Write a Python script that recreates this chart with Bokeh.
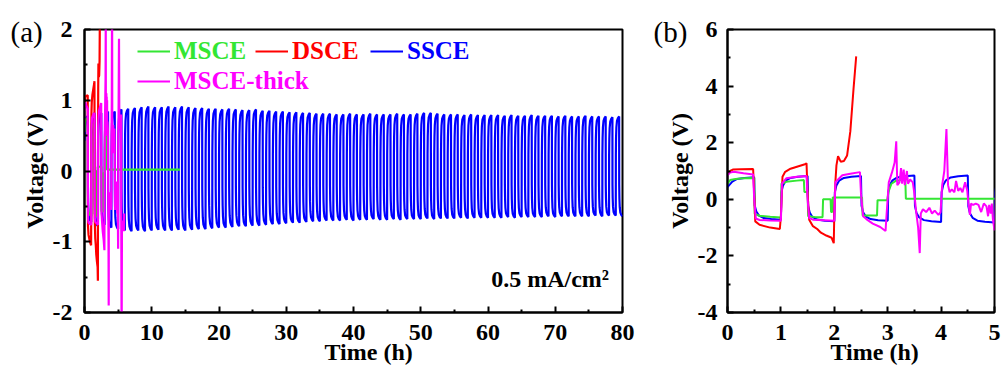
from bokeh.plotting import figure
from bokeh.layouts import row
from bokeh.models import FixedTicker, Legend, LegendItem, Label, Range1d, Title
from bokeh.embed import file_html
from bokeh.resources import INLINE

FONT = "Liberation Serif"
C_MSCE, C_DSCE, C_SSCE, C_THICK = "#33e633", "#ff0000", "#0000ff", "#ff00ff"

# ---------------- data ----------------
# SSCE: one value per 1 h cycle (charge half then discharge half)
ssce_peak = [0.78, 0.82, 0.82, 0.84, 0.84,
             0.87, 0.88, 0.89, 0.90, 0.91, 0.90, 0.90, 0.91, 0.90, 0.91, 0.90, 0.89,
             0.89, 0.88, 0.88, 0.87, 0.88, 0.87, 0.86, 0.86, 0.87, 0.85, 0.85, 0.84, 0.84,
             0.83, 0.83, 0.82, 0.82, 0.81, 0.81,
             0.81, 0.80, 0.80, 0.81, 0.80, 0.80, 0.81, 0.80, 0.80, 0.80, 0.81, 0.80, 0.80,
             0.81, 0.82, 0.82, 0.81, 0.80, 0.80, 0.80, 0.79, 0.80, 0.79, 0.79,
             0.79, 0.79, 0.78, 0.79, 0.78, 0.78, 0.79, 0.78, 0.78, 0.78, 0.77, 0.78, 0.77,
             0.77, 0.78, 0.77, 0.77, 0.77, 0.76, 0.77]
ssce_trough = [-0.72, -0.78, -0.76, -0.80, -0.82,
               -0.84, -0.85, -0.84, -0.85, -0.84, -0.83, -0.84, -0.84, -0.83, -0.84, -0.83, -0.82,
               -0.82, -0.81, -0.80, -0.80, -0.79, -0.78, -0.78, -0.77, -0.77, -0.76, -0.75, -0.75,
               -0.74, -0.73, -0.73, -0.72, -0.71, -0.71, -0.70,
               -0.70, -0.70, -0.69, -0.70, -0.69, -0.69, -0.68, -0.69, -0.69, -0.68, -0.69, -0.68,
               -0.68, -0.68, -0.67, -0.68, -0.67, -0.67, -0.67, -0.66, -0.67, -0.66, -0.66, -0.66,
               -0.66, -0.66, -0.65, -0.66, -0.65, -0.65, -0.65, -0.65, -0.64, -0.65, -0.64, -0.64,
               -0.64, -0.64, -0.64, -0.63, -0.64, -0.63, -0.63, -0.64]

msce_t = [0.0, 0.05, 0.15, 0.3, 0.5, 0.51, 0.6, 0.8, 1.0, 1.01, 1.1, 1.3, 1.43, 1.44, 1.5,
          1.51, 1.65, 1.78, 1.79, 1.93, 1.94, 1.96, 1.97, 2.52, 2.53, 2.80, 2.81, 2.99,
          3.02, 3.07, 3.15, 3.25, 3.33, 3.34, 14.2]
msce_v = [0.55, 0.68, 0.72, 0.74, 0.75, -0.52, -0.58, -0.62, -0.64, 0.55, 0.62, 0.66, 0.68,
          0.26, 0.26, -0.60, -0.63, -0.63, 0.0, 0.0, -0.45, -0.45, 0.06, 0.06, -0.57, -0.57,
          -0.03, -0.03, 0.3, 0.55, 0.65, 0.68, 0.70, 0.02, 0.02]

dsce_t = [0.0, 0.05, 0.1, 0.25, 0.48, 0.5, 0.52, 0.6, 0.8, 0.98, 1.0, 1.03, 1.08, 1.18, 1.33,
          1.45, 1.48, 1.5, 1.53, 1.6, 1.68, 1.75, 1.85, 1.95, 1.99, 2.0, 2.02, 2.04, 2.07,
          2.12, 2.18, 2.24, 2.3, 2.36, 2.41]
dsce_v = [0.88, 1.0, 1.05, 1.06, 1.07, 0.2, -0.78, -0.9, -1.0, -1.05, -0.6, 0.8, 0.97, 1.08,
          1.17, 1.24, 1.27, 0.2, -0.72, -0.95, -1.05, -1.18, -1.28, -1.36, -1.55, -0.5, 0.6,
          1.2, 1.52, 1.33, 1.35, 1.55, 2.4, 3.9, 5.05]

thick_t = [0.0, 0.05, 0.12, 0.3, 0.48, 0.5, 0.53, 0.6, 0.8, 1.0,
           1.02, 1.1, 1.3, 1.48, 1.5, 1.53, 1.6, 1.8, 2.0,
           2.02, 2.15, 2.3, 2.48, 2.5, 2.54, 2.6, 2.72, 2.86, 2.96,
           2.98, 3.02, 3.08, 3.13, 3.16, 3.18, 3.22, 3.25, 3.27, 3.3, 3.32, 3.36, 3.38, 3.42, 3.47,
           3.5, 3.53, 3.57, 3.6, 3.62, 3.66, 3.72, 3.78, 3.83, 3.88, 3.95, 3.99,
           4.02, 4.06, 4.1, 4.13, 4.16, 4.2, 4.25, 4.28, 4.32, 4.36, 4.4, 4.45, 4.49,
           4.51, 4.54, 4.56, 4.6, 4.65, 4.7, 4.75, 4.8, 4.85, 4.88, 4.9, 4.93, 4.95, 4.97, 5.0,
           5.03, 5.08, 5.13, 5.18, 5.3, 5.45, 5.47, 5.52, 5.57, 5.7, 5.85, 5.9]
thick_v = [0.85, 0.95, 0.97, 0.92, 0.88, 0.0, -0.68, -0.73, -0.75, -0.76,
           0.55, 0.74, 0.8, 0.82, 0.0, -0.66, -0.72, -0.74, -0.76,
           0.6, 0.85, 0.9, 0.96, 0.2, -0.6, -0.7, -0.86, -0.98, -1.12,
           -0.5, 0.6, 0.95, 1.3, 2.05, 0.5, 0.6, 1.1, 0.55, 1.05, 0.5, 1.0, 0.55, 0.7, 0.6,
           0.2, -0.4, -1.0, -1.9, -0.5, -0.35, -0.45, -0.3, -0.5, -0.4, -0.55, -0.45,
           0.5, 1.0, 2.48, 0.5, 0.25, 0.35, 0.25, 0.65, 0.3, 0.4, 0.25, 0.6, 0.3,
           -0.1, -0.55, -0.15, -0.2, -0.15, -0.2, -0.45, -0.15, -0.25, -0.6, -0.2, -0.5, -0.15, -0.7, -1.1,
           0.4, 1.0, 1.87, 0.6, 0.7, 0.8, -0.8, -2.4, -0.8, -0.7, -0.85, -0.6]

xa_ticks = [0, 10, 20, 30, 40, 50, 60, 70, 80]
ya_ticks = [-2, -1, 0, 1, 2]
xb_ticks = [0, 1, 2, 3, 4, 5]
yb_ticks = [-4, -2, 0, 2, 4, 6]

# ---------- build SSCE polyline from per-cycle values ----------
shape_dt = [0.01, 0.04, 0.09, 0.18, 0.32, 0.5]
shape_f = [0.3, 0.6, 0.8, 0.92, 0.97, 1.0]
ssce_t, ssce_v = [0.0], [0.55 * ssce_peak[0]]
for k, (pk, tr) in enumerate(zip(ssce_peak, ssce_trough)):
    for i, (dt, f) in enumerate(zip(shape_dt, shape_f)):
        if k == 0 and i < 2:
            continue
        ssce_t.append(k + dt); ssce_v.append(f * pk)
    for dt, f in zip(shape_dt, shape_f):
        ssce_t.append(k + 0.5 + dt); ssce_v.append(f * tr)


def make_fig(xr, yr, xt, xminor, yt, yminor, fw, bl, br, ystand, tag, xlab_off):
    p = figure(frame_width=fw, frame_height=283, x_range=Range1d(*xr), y_range=Range1d(*yr),
               output_backend="svg", toolbar_location=None,
               min_border_left=bl, min_border_right=br, min_border_top=29, min_border_bottom=55)
    p.grid.visible = False
    p.outline_line_color = "black"
    p.outline_line_width = 2
    p.outline_line_alpha = 1.0
    p.background_fill_color = "white"
    p.border_fill_color = "white"
    p.xaxis.ticker = FixedTicker(ticks=xt, minor_ticks=xminor)
    p.yaxis.ticker = FixedTicker(ticks=yt, minor_ticks=yminor)
    for ax in (p.xaxis[0], p.yaxis[0]):
        ax.axis_line_width = 2
        ax.axis_line_color = "black"
        ax.major_tick_line_width = 2
        ax.minor_tick_line_width = 2
        ax.major_tick_in = 6
        ax.major_tick_out = 0
        ax.minor_tick_in = 3
        ax.minor_tick_out = 0
        ax.major_label_text_font = FONT
        ax.major_label_text_font_style = "bold"
        ax.major_label_text_font_size = "24px"
        ax.major_label_text_color = "black"
        ax.axis_label_text_font = FONT
        ax.axis_label_text_font_style = "bold"
        ax.axis_label_text_font_size = "24px"
        ax.axis_label_text_color = "black"
    p.xaxis.major_label_overrides = {t: str(t) for t in xt}
    p.yaxis.major_label_overrides = {t: str(t) for t in yt}
    p.yaxis.axis_label = "Voltage (V)"
    p.xaxis.major_label_standoff = 12
    p.yaxis.major_label_standoff = ystand
    p.yaxis.axis_label_standoff = 2
    # x-axis title, placed under the tick labels
    xt_title = Title(text="Time (h)", align="left", offset=xlab_off, standoff=-12,
                     vertical_align="bottom", text_font=FONT, text_font_style="bold",
                     text_font_size="24px", text_color="black")
    p.add_layout(xt_title, "below")
    # panel tag "(a)" / "(b)" as a title shifted left of the frame
    p.title.text = tag
    p.title.align = "left"
    p.title.offset = -74
    p.title.standoff = -36
    p.title.vertical_align = "bottom"
    p.title.text_font = FONT
    p.title.text_font_style = "normal"
    p.title.text_font_size = "29px"
    p.title.text_color = "black"
    return p


pa = make_fig((0, 80), (-2, 2), xa_ticks, [5, 15, 25, 35, 45, 55, 65, 75],
              ya_ticks, [-1.5, -0.5, 0.5, 1.5], 538, 84, 18, 12, "(a)", 240)
pb = make_fig((0, 5), (-4, 6), xb_ticks, [0.5, 1.5, 2.5, 3.5, 4.5],
              yb_ticks, [-3, -1, 1, 3, 5], 267, 87, 9, 10, "(b)", 103)

renderers = {}
for p, key, lw in ((pa, "a", 2.2), (pb, "b", 2)):
    r_ssce = p.line(ssce_t, ssce_v, line_color=C_SSCE, line_width=lw)
    r_msce = p.line(msce_t, msce_v, line_color=C_MSCE, line_width=lw)
    r_dsce = p.line(dsce_t, dsce_v, line_color=C_DSCE, line_width=lw)
    r_thick = p.line(thick_t, thick_v, line_color=C_THICK, line_width=lw)
    renderers[key] = (r_msce, r_dsce, r_ssce, r_thick)

# legends (panel a), one per item so each label has its series colour
leg_specs = [("MSCE", renderers["a"][0], C_MSCE, (53, 247)),
             ("DSCE", renderers["a"][1], C_DSCE, (171, 247)),
             ("SSCE", renderers["a"][2], C_SSCE, (286, 247)),
             ("MSCE-thick", renderers["a"][3], C_THICK, (53, 217))]
for name, r, col, loc in leg_specs:
    lg = Legend(items=[LegendItem(label=name, renderers=[r])], location=loc,
                label_text_font=FONT, label_text_font_style="bold",
                label_text_font_size="25px", label_text_color=col,
                glyph_width=33, glyph_height=20, label_standoff=4,
                padding=0, margin=0, spacing=0,
                border_line_alpha=0, background_fill_alpha=0)
    pa.add_layout(lg)

pa.add_layout(Label(x=78, y=-1.52, text="0.5 mA/cm\u00b2", text_font=FONT,
                    text_font_style="bold", text_font_size="24px",
                    text_align="right", text_baseline="middle", text_color="black"))

layout = row(pa, pb)
open("out.html", "w").write(file_html(layout, INLINE))
